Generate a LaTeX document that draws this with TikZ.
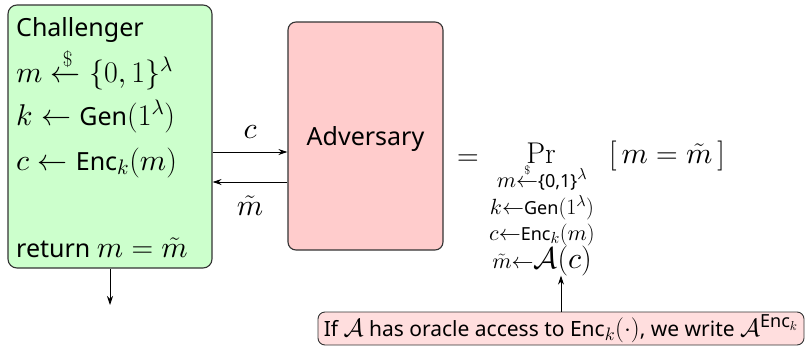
\RequirePackage{fix-cm}
\documentclass[tikz,border=0pt]{standalone}
\usepackage{amsmath}
\usepackage[no-math]{fontspec}
\setmainfont{Noto Sans}
\usetikzlibrary{arrows.meta}
% math italic from the 10pt design at every size (heavier strokes)
\DeclareFontShape{OML}{cmm}{m}{it}{<->cmmi10}{}
\definecolor{chalfill}{HTML}{CCFFCC}
\definecolor{advfill}{HTML}{FFCCCC}
\definecolor{notefill}{HTML}{FFDEDE}
\definecolor{boxedge}{HTML}{333333}
% math set a little larger than the sans text around it
\DeclareMathSizes{25}{30}{21}{16}
\DeclareMathSizes{21}{25}{18}{13}
\DeclareMathSizes{18}{22}{16}{12}
\newcommand{\bigsize}{\fontsize{25}{30}\selectfont}
\newcommand{\subsize}{\fontsize{18}{21}\selectfont}
\newcommand{\notesize}{\fontsize{21}{25}\selectfont}
\newcommand{\sampleto}{\mathrel{\overset{\scriptscriptstyle\$}{\leftarrow}}}
\tikzset{
  party/.style={draw=boxedge, line width=1.1pt, rounded corners=9pt, inner sep=0pt},
  line/.style={anchor=base west, inner sep=0pt, font=\bigsize},
  subline/.style={anchor=base, inner sep=0pt, font=\subsize},
  msg/.style={-{Stealth[length=9pt,width=6pt]}, line width=0.9pt},
}
\begin{document}
\begin{tikzpicture}[x=1pt,y=-1pt]
\useasboundingbox (0,0) rectangle (805,348);

% challenger
\node[party, fill=chalfill, minimum width=204pt, minimum height=263pt] (chal) at (110,136.5) {};
\node[line] (l1) at (16,36) {Challenger};
\node[line] (l2) at (16,82) {$m \xleftarrow{\$} \{0,1\}^{\lambda}$};
\node[line] (l3) at (16,125) {$k \leftarrow \text{Gen}(1^{\lambda})$};
\node[line] (l4) at (16,170) {$c \leftarrow \text{Enc}_k(m)$};
\node[line] (l5) at (16,257) {return $m = \tilde{m}$};

% adversary
\node[party, fill=advfill, rounded corners=8pt, minimum width=155pt, minimum height=228pt] (adv) at (365.5,136) {};
\node[anchor=base, inner sep=0pt, font=\bigsize] (advname) at (365.5,145) {Adversary};

% messages
\draw[msg] (chal.east |- 0,152) -- (adv.west |- 0,152);
\draw[msg] (adv.west |- 0,182) -- (chal.east |- 0,182);
\node[anchor=base, inner sep=0pt, font=\bigsize] (lc) at (250,138) {$c$};
\node[anchor=base, inner sep=0pt, font=\bigsize] (lm) at (250,215) {$\tilde{m}$};

% output
\coordinate (out) at (chal.south |- 0,305);
\draw[msg] (chal.south) -- (out);

% probability
\node[anchor=base, inner sep=0pt, font=\bigsize] (eq) at (468,165) {$=$};
\node[anchor=base, inner sep=0pt, font=\bigsize] (pr) at (541,163) {$\Pr$};
\node[anchor=base, inner sep=0pt, font=\bigsize] (ev) at (667,163) {$[\,m = \tilde{m}\,]$};
\node[subline] (s1) at (542,187) {$m{\sampleto}$\{0,1\}$^{\lambda}$};
\node[subline] (s2) at (542,214) {$k{\leftarrow}$Gen$(1^{\lambda})$};
\node[subline] (s3) at (542,240) {$c{\leftarrow}$Enc$_k(m)$};
\node[subline] (s4) at (542,268) {$\tilde{m}{\leftarrow}$\bigsize$\mathcal{A}(c)$};

% remark
\node[draw=boxedge, line width=0.9pt, fill=notefill, rounded corners=7pt, inner sep=0pt,
      minimum width=486pt, minimum height=33pt, font=\notesize] (note) at (561,328.5)
  {If $\mathcal{A}$ has oracle access to Enc$_k(\cdot)$, we write $\mathcal{A}^{\text{Enc}_k}$};
\draw[msg] (note.north) -- (s4.south -| note.north);
\end{tikzpicture}
\end{document}
